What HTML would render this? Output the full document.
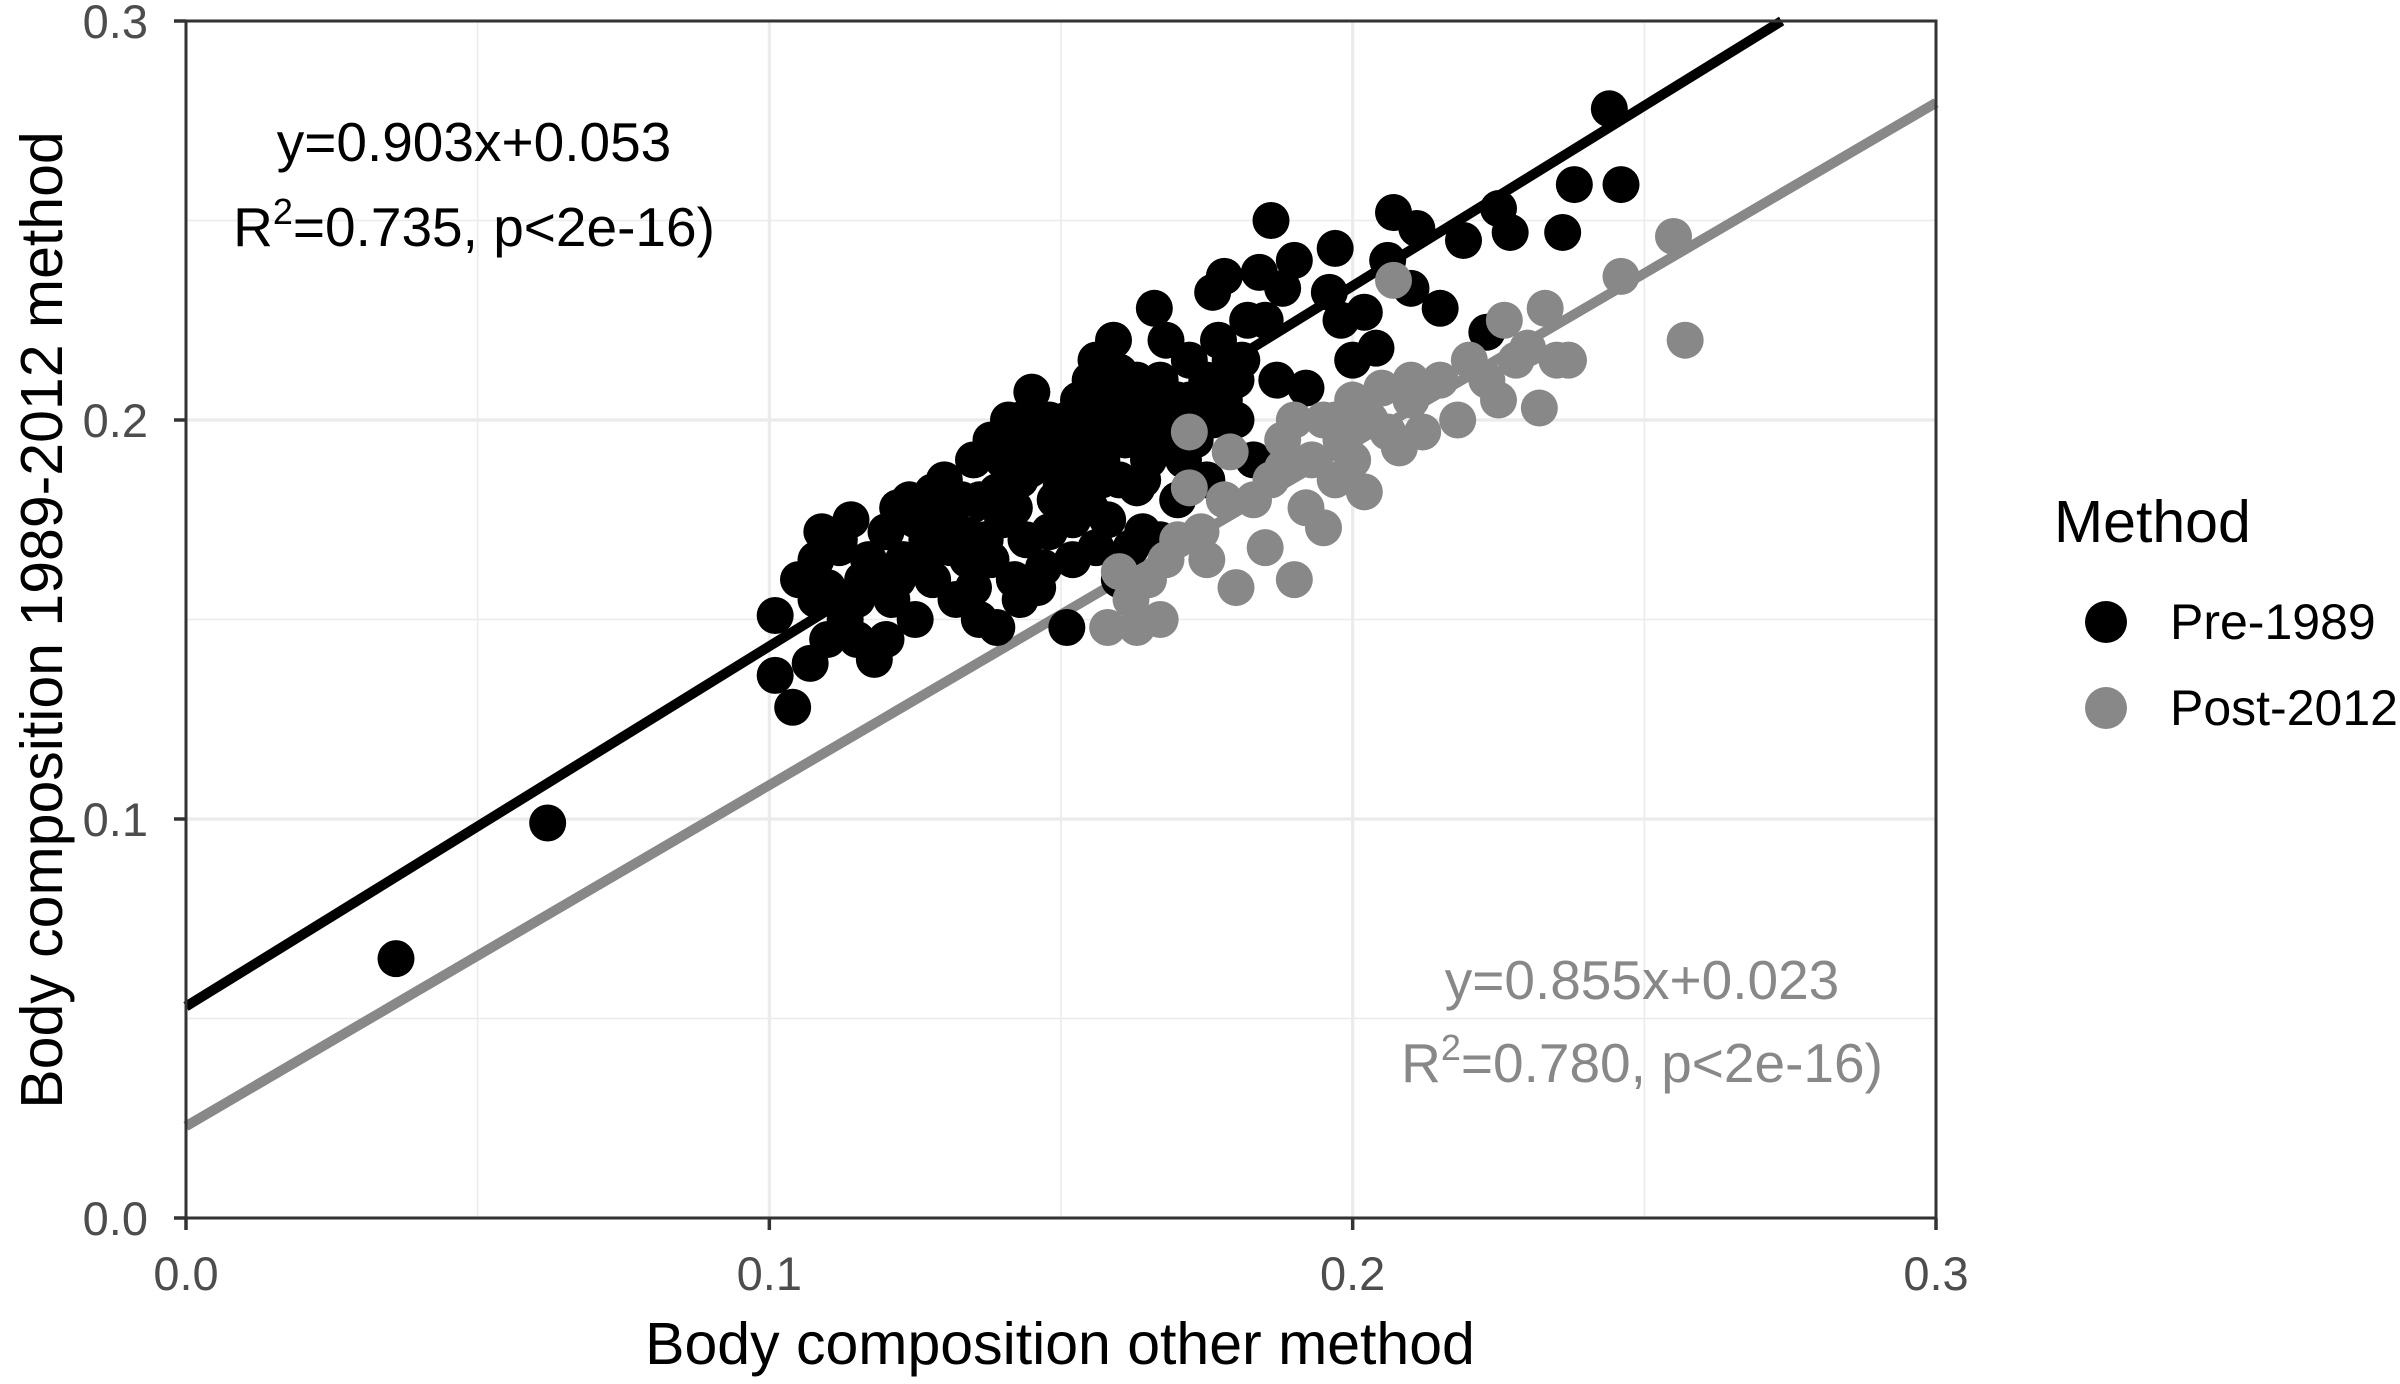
<!DOCTYPE html>
<html><head><meta charset="utf-8"><style>
html,body{margin:0;padding:0;background:#fff;}
svg{display:block;font-family:"Liberation Sans",Arial,sans-serif;}
</style></head><body>
<svg id="chart" width="2400" height="1384" viewBox="0 0 2400 1384" xmlns="http://www.w3.org/2000/svg">
<g id="grid"></g>
<g id="lines"></g>
<g id="pts"></g>
<g id="axes"></g>
<text x="474" y="161" font-size="55" text-anchor="middle" fill="#000">y=0.903x+0.053</text>
<text x="474" y="246" font-size="55" text-anchor="middle" fill="#000">R<tspan dy="-22" font-size="36">2</tspan><tspan dy="22">=0.735, p&lt;2e-16)</tspan></text>
<text x="1642" y="999" font-size="55" text-anchor="middle" fill="#888">y=0.855x+0.023</text>
<text x="1642" y="1082" font-size="55" text-anchor="middle" fill="#888">R<tspan dy="-22" font-size="36">2</tspan><tspan dy="22">=0.780, p&lt;2e-16)</tspan></text>
<text x="1060" y="1364" font-size="59" text-anchor="middle" fill="#000">Body composition other method</text>
<text transform="translate(62,620) rotate(-90)" font-size="59" text-anchor="middle" fill="#000">Body composition 1989-2012 method</text>
<g>
<text x="2054" y="542" font-size="59" fill="#000">Method</text>
<circle cx="2106" cy="622" r="21" fill="#000"/>
<text x="2170" y="639" font-size="50" fill="#000">Pre-1989</text>
<circle cx="2106" cy="708" r="21" fill="#888"/>
<text x="2170" y="725" font-size="50" fill="#000">Post-2012</text>
</g>
</svg>
<script>
const xTicks=[0.0,0.1,0.2,0.3];
const yTicks=[0.0,0.1,0.2,0.3];
const xTickLabels=["0.0","0.1","0.2","0.3"];
const yTickLabels=["0.0","0.1","0.2","0.3"];
const preX=[0.036,0.062,0.101,0.101,0.104,0.107,0.108,0.109,0.11,0.112,0.113,0.115,0.116,0.118,0.12,0.121,0.123,0.124,0.125,0.127,0.128,0.13,0.131,0.132,0.134,0.135,0.136,0.138,0.139,0.14,0.141,0.142,0.143,0.144,0.145,0.146,0.147,0.148,0.149,0.15,0.151,0.152,0.153,0.154,0.155,0.156,0.157,0.158,0.159,0.16,0.161,0.162,0.163,0.164,0.165,0.166,0.167,0.168,0.17,0.171,0.172,0.174,0.175,0.176,0.177,0.178,0.18,0.181,0.182,0.183,0.184,0.185,0.186,0.187,0.188,0.19,0.192,0.196,0.197,0.198,0.2,0.202,0.204,0.206,0.207,0.21,0.211,0.215,0.219,0.223,0.225,0.227,0.236,0.238,0.244,0.246,0.105,0.11,0.114,0.117,0.12,0.125,0.128,0.13,0.133,0.137,0.14,0.142,0.145,0.148,0.15,0.153,0.155,0.157,0.16,0.162,0.165,0.168,0.17,0.173,0.175,0.178,0.18,0.158,0.163,0.135,0.143,0.147,0.152,0.156,0.16,0.164,0.108,0.112,0.118,0.122,0.126,0.131,0.139,0.144,0.15,0.155,0.16,0.166,0.115,0.122,0.126,0.129,0.133,0.136,0.138,0.141,0.146,0.149,0.151,0.154,0.157,0.161,0.164,0.167,0.169,0.172,0.176,0.179,0.143,0.138];
const preY=[0.065,0.099,0.151,0.136,0.128,0.139,0.165,0.172,0.158,0.168,0.15,0.145,0.16,0.14,0.172,0.155,0.165,0.18,0.15,0.17,0.16,0.185,0.175,0.155,0.165,0.19,0.15,0.195,0.148,0.175,0.185,0.16,0.2,0.17,0.207,0.158,0.19,0.2,0.18,0.195,0.148,0.165,0.205,0.185,0.2,0.215,0.19,0.175,0.22,0.205,0.195,0.168,0.21,0.185,0.2,0.228,0.17,0.22,0.205,0.19,0.215,0.2,0.21,0.232,0.22,0.236,0.2,0.215,0.225,0.19,0.237,0.225,0.25,0.21,0.233,0.24,0.208,0.232,0.243,0.225,0.215,0.227,0.218,0.24,0.252,0.233,0.248,0.228,0.245,0.222,0.253,0.247,0.247,0.259,0.278,0.259,0.16,0.145,0.175,0.165,0.145,0.175,0.182,0.17,0.18,0.17,0.19,0.178,0.188,0.172,0.183,0.192,0.178,0.205,0.185,0.2,0.19,0.198,0.18,0.195,0.185,0.205,0.21,0.2,0.183,0.158,0.155,0.163,0.175,0.168,0.16,0.172,0.155,0.17,0.162,0.178,0.165,0.168,0.182,0.195,0.19,0.21,0.212,0.195,0.155,0.16,0.165,0.175,0.17,0.18,0.165,0.2,0.195,0.19,0.2,0.195,0.185,0.21,0.205,0.21,0.195,0.205,0.2,0.215,0.185,0.18];
const postX=[0.158,0.16,0.162,0.163,0.165,0.167,0.168,0.17,0.172,0.172,0.174,0.175,0.178,0.179,0.18,0.183,0.185,0.186,0.188,0.19,0.19,0.192,0.193,0.195,0.195,0.197,0.198,0.2,0.2,0.202,0.203,0.205,0.206,0.207,0.208,0.21,0.212,0.215,0.218,0.22,0.223,0.225,0.226,0.228,0.23,0.232,0.233,0.235,0.237,0.246,0.255,0.257,0.21,0.197,0.188];
const postY=[0.148,0.162,0.155,0.148,0.16,0.15,0.165,0.17,0.197,0.183,0.172,0.165,0.18,0.192,0.158,0.18,0.168,0.185,0.195,0.2,0.16,0.178,0.19,0.173,0.2,0.185,0.195,0.205,0.19,0.182,0.2,0.208,0.197,0.235,0.193,0.205,0.197,0.21,0.2,0.215,0.21,0.205,0.225,0.215,0.218,0.203,0.228,0.215,0.215,0.236,0.246,0.22,0.21,0.2,0.188];
const preFit=[0.903,0.053];
const postFit=[0.855,0.023];

const NS="http://www.w3.org/2000/svg";
const X0=186,X1=1936,Y0=1218,Y1=21;
const sx=v=>X0+(v-0)/(0.3)*(X1-X0);
const sy=v=>Y0-(v-0)/(0.3)*(Y0-Y1);
function mk(tag,parent,attrs){const e=document.createElementNS(NS,tag);for(const k in attrs)e.setAttribute(k,attrs[k]);parent.appendChild(e);return e;}
const grid=document.getElementById('grid'),axes=document.getElementById('axes'),lines=document.getElementById('lines'),pts=document.getElementById('pts');
for(let i=0;i<xTicks.length-1;i++){
  const m=(xTicks[i]+xTicks[i+1])/2;
  const g=mk('line',grid,{x1:sx(m),x2:sx(m),y1:Y1,y2:Y0,stroke:'#ebebeb','stroke-width':1.6});
  
  
  const m2=(yTicks[i]+yTicks[i+1])/2;
  const h=mk('line',grid,{x1:X0,x2:X1,y1:sy(m2),y2:sy(m2),stroke:'#ebebeb','stroke-width':1.6});
  
  
}
xTicks.forEach((t,i)=>{
  const g=mk('line',grid,{x1:sx(t),x2:sx(t),y1:Y1,y2:Y0,stroke:'#ebebeb','stroke-width':3.2});
  
  
  const tk=mk('line',axes,{x1:sx(t),x2:sx(t),y1:Y0,y2:Y0+12,stroke:'#333','stroke-width':3.5});
  
  
  const lb=mk('text',axes,{x:sx(t),y:Y0+72,'font-size':47,'text-anchor':'middle',fill:'#4d4d4d'});
  lb.textContent=xTickLabels[i];
  
  
});
yTicks.forEach((t,i)=>{
  const g=mk('line',grid,{x1:X0,x2:X1,y1:sy(t),y2:sy(t),stroke:'#ebebeb','stroke-width':3.2});
  
  
  const tk=mk('line',axes,{x1:X0-12,x2:X0,y1:sy(t),y2:sy(t),stroke:'#333','stroke-width':3.5});
  
  
  const lb=mk('text',axes,{x:X0-38,y:sy(t)+17,'font-size':47,'text-anchor':'end',fill:'#4d4d4d'});
  lb.textContent=yTickLabels[i];
  
  
});
const border=mk('rect',axes,{x:X0,y:Y1,width:X1-X0,height:Y0-Y1,fill:'none',stroke:'#333','stroke-width':3});


preX.forEach((x,i)=>{
  const c=mk('circle',pts,{cx:sx(x),cy:sy(preY[i]),r:18.5,fill:'#000'});
  
  
});
postX.forEach((x,i)=>{
  const c=mk('circle',pts,{cx:sx(x),cy:sy(postY[i]),r:18.5,fill:'#888'});
  
  
});
function fitLine(f,color,name){
  const xa=0; let xb=0.3; if(f[0]*xb+f[1]>0.3) xb=(0.3-f[1])/f[0];
  const l=mk('line',lines,{x1:sx(xa),y1:sy(f[0]*xa+f[1]),x2:sx(xb),y2:sy(f[0]*xb+f[1]),stroke:color,'stroke-width':10});
  
  
}
fitLine(preFit,'#000','pre-1989-fit-line');
fitLine(postFit,'#888','post-2012-fit-line');
</script>
</body></html>
